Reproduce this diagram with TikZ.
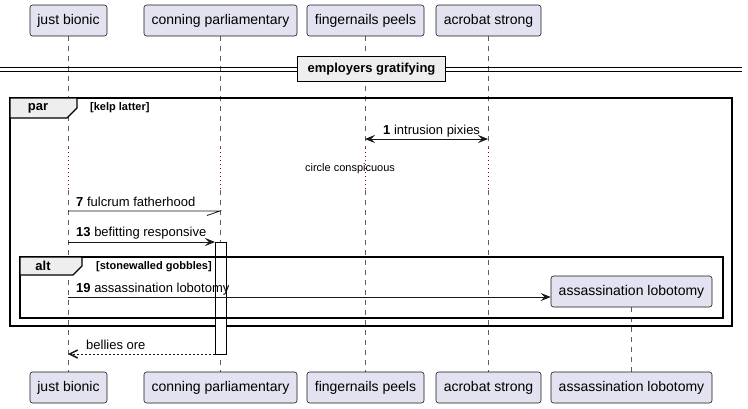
\documentclass[tikz,border=0pt]{standalone}
\usepackage{fontspec}
\setmainfont{Liberation Sans}
\usetikzlibrary{arrows.meta}
\definecolor{partfill}{HTML}{E2E2F0}
\definecolor{partline}{HTML}{181818}
\definecolor{tabfill}{HTML}{EEEEEE}
\definecolor{delaycol}{HTML}{A80036}
\begin{document}
\begin{tikzpicture}[x=1pt,y=-1pt,
  partbox/.style={draw=partline,fill=partfill,rounded corners=2.5pt,line width=0.6pt,
    minimum height=31pt,inner sep=0pt,font=\fontsize{14}{16}\selectfont},
  lifeline/.style={draw=partline!70,line width=0.6pt,dash pattern=on 5pt off 5pt},
  delayline/.style={draw=delaycol!80!black,line width=0.8pt,dash pattern=on 1pt off 3pt},
  msg/.style={draw=partline,line width=0.8pt},
  fillhead/.style={-{Stealth[length=10pt,width=8pt,inset=4pt]}},
  openhead/.style={-{Straight Barb[length=8pt,width=8pt,line width=1.5pt]}},
  msglabel/.style={anchor=west,inner sep=0pt,font=\fontsize{13}{15}\selectfont},
  framebox/.style={draw=black,line width=1.5pt},
  tabbox/.style={draw=black,line width=1.2pt,fill=tabfill},
  frametitle/.style={inner sep=0pt,font=\fontsize{13}{15}\selectfont\bfseries},
  guard/.style={anchor=west,inner sep=0pt,font=\fontsize{11}{13}\selectfont\bfseries},
  actbox/.style={draw=black,fill=white,line width=1pt}]
\useasboundingbox (0,0) rectangle (748,408);

% lifelines
\coordinate (jbA) at (68,36); \coordinate (jbB) at (68,148);
\coordinate (jbC) at (68,190); \coordinate (jbD) at (68,372);
\coordinate (cpA) at (220,36); \coordinate (cpB) at (220,148);
\coordinate (cpC) at (220,190); \coordinate (cpD) at (220,372);
\coordinate (fpA) at (365,36); \coordinate (fpB) at (365,148);
\coordinate (fpC) at (365,190); \coordinate (fpD) at (365,372);
\coordinate (asA) at (488,36); \coordinate (asB) at (488,148);
\coordinate (asC) at (488,190); \coordinate (asD) at (488,372);
\coordinate (alA) at (631,307); \coordinate (alD) at (631,372);
\foreach \p in {jb,cp,fp,as}{
  \draw[lifeline] (\p A) -- (\p B);
  \draw[delayline] (\p B) -- (\p C);
  \draw[lifeline] (\p C) -- (\p D);
}
\draw[lifeline] (alA) -- (alD);

% participants top
\node[partbox,minimum width=77pt] (jbT) at (68.5,20.5) {just bionic};
\node[partbox,minimum width=153pt] (cpT) at (220.5,20.5) {conning parliamentary};
\node[partbox,minimum width=117pt] (fpT) at (365.5,20.5) {fingernails peels};
\node[partbox,minimum width=105pt] (asT) at (488.5,20.5) {acrobat strong};
% participants bottom
\node[partbox,minimum width=77pt] (jbE) at (68.5,387.5) {just bionic};
\node[partbox,minimum width=153pt] (cpE) at (220.5,387.5) {conning parliamentary};
\node[partbox,minimum width=117pt] (fpE) at (365.5,387.5) {fingernails peels};
\node[partbox,minimum width=105pt] (asE) at (488.5,387.5) {acrobat strong};
\node[partbox,minimum width=161pt] (alE) at (631.5,387.5) {assassination lobotomy};

% separator
\draw[line width=0.9pt] (0,67) -- (742,67);
\draw[line width=0.9pt] (0,71) -- (742,71);
\node[draw=black,line width=1.8pt,fill=tabfill,minimum width=148pt,minimum height=25pt,
  inner sep=0pt,font=\fontsize{13}{15}\selectfont\bfseries] (sep) at (371.5,69) {employers gratifying};

% par frame
\draw[framebox] (10,98) rectangle (732,326);
\draw[tabbox] (10,98) -- (77,98) -- (77,108) -- (67,118) -- (10,118) -- cycle;
\node[frametitle] (partitle) at (38,108) {par};
\node[guard] (parguard) at (90,107.5) {[kelp latter]};

% message 1
\coordinate (m1a) at (365,139); \coordinate (m1b) at (488,139);
\draw[msg,{Stealth[length=10pt,width=8pt,inset=4pt]}-{Stealth[length=10pt,width=8pt,inset=4pt]}] (m1a) -- (m1b);
\node[msglabel] (m1l) at (383,131) {\textbf{1} intrusion pixies};

% delay
\node[inner sep=0pt,font=\fontsize{11}{13}\selectfont] (delay) at (350,169) {circle conspicuous};

% message 7
\coordinate (m7a) at (68,211); \coordinate (m7b) at (220,211);
\coordinate (m7h) at (207,215.5);
\draw[msg] (m7a) -- (m7b) -- (m7h);
\node[msglabel] (m7l) at (76,202) {\textbf{7} fulcrum fatherhood};

% activation
\coordinate (actT) at (215,242); \coordinate (actB) at (226,354);
\draw[actbox] (actT) rectangle (actB);

% message 13
\coordinate (m13a) at (68,242); \coordinate (m13b) at (215,242);
\draw[msg,fillhead] (m13a) -- (m13b);
\node[msglabel] (m13l) at (76,233) {\textbf{13} befitting responsive};

% alt frame
\draw[framebox] (20,257) rectangle (723,318);
\draw[tabbox] (20,257) -- (82,257) -- (82,266) -- (73,275) -- (20,275) -- cycle;
\node[frametitle] (alttitle) at (43,266) {alt};
\node[guard] (altguard) at (96,266.5) {[stonewalled gobbles]};

% message 19 + created participant
\node[partbox,minimum width=161pt] (alT) at (631.5,291.5) {assassination lobotomy};
\coordinate (m19a) at (68,297);
\draw[msg,fillhead] (m19a) -- (alT.west |- m19a);
\node[msglabel] (m19l) at (76,289) {\textbf{19} assassination lobotomy};

% return
\coordinate (rta) at (215,354); \coordinate (rtb) at (68,354);
\draw[msg,dash pattern=on 2pt off 2pt,openhead] (rta) -- (rtb);
\node[msglabel] (rtl) at (86,345) {bellies ore};
\end{tikzpicture}
\end{document}
